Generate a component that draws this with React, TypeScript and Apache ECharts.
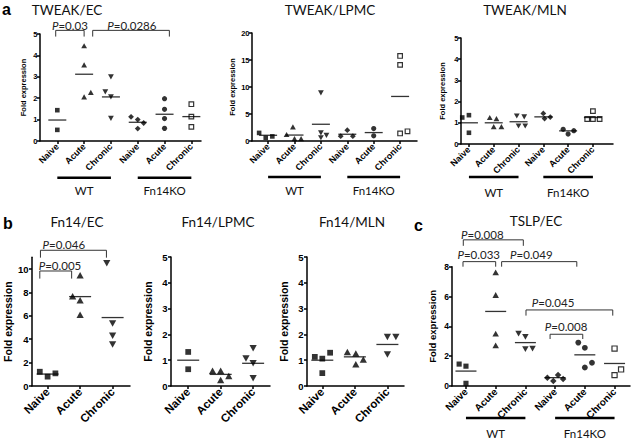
import React, { useEffect, useRef } from "react";
import * as echarts from "echarts";

// ---------- categories / labels ----------
const CATEGORIES_KO = ["Naive", "Acute", "Chronic", "Naive", "Acute", "Chronic"];
const CATEGORIES_WT = ["Naive", "Acute", "Chronic"];
const GROUP_LABELS = ["WT", "Fn14KO"];
const Y_LABEL = "Fold expression";

// ---------- tick values ----------
const yTicks5 = [0, 1, 2, 3, 4, 5];
const yTicks20 = [0, 5, 10, 15, 20];
const yTicks10 = [0, 2, 4, 6, 8, 10];
const yTicks8 = [0, 2, 4, 6, 8];

// ---------- TWEAK/EC ----------
const tweakEcValues = [[1.44, 0.52], [4.45, 3.56, 2.06, 2.27], [3.0, 2.3, 2.06, 1.06], [1.13, 1.0, 0.84, 0.58], [1.98, 1.48, 1.05, 0.59], [1.72, 1.14, 0.66]];
const tweakEcJitter = [[0, 0], [0, 0, 0, 0.25], [0, -0.21, 0, 0], [-0.25, 0, 0.22, 0], [0, 0, 0, 0], [0, 0, 0]];
const tweakEcMeans = [0.98, 3.12, 2.06, 0.875, 1.25, 1.14];
const tweakEcBrackets = [
  { p: "0.03", x1: -0.06, x2: 1.0, top: 5.17, foot: 4.88, tx: 0.47, ty: 5.42 },
  { p: "0.0286", x1: 1.32, x2: 4.18, top: 5.17, foot: 4.88, tx: 2.78, ty: 5.42 },
];

// ---------- TWEAK/LPMC ----------
const tweakLpmcValues = [[1.5, 0.6, 0.85], [2.6, 1.2, 0.45, 0.45], [8.9, 1.5, 0.6, 1.06], [2.0, 0.9, 0.9], [2.3, 0.95], [15.75, 14.1, 1.4, 1.8]];
const tweakLpmcJitter = [[-0.34, -0.09, 0.16], [-0.06, -0.3, 0, 0.25], [0, 0, 0, 0.21], [0, -0.25, 0.21], [0, 0], [0, 0, 0, 0.28]];
const tweakLpmcMeans = [1.06, 1.1, 3.1, 1.25, 1.56, 8.25];

// ---------- TWEAK/MLN ----------
const tweakMlnValues = [[1.25, 1.36, 0.53], [1.25, 1.2, 0.82, 0.82], [1.32, 1.28, 0.85, 0.85], [1.44, 1.2, 1.27], [0.69, 0.47, 0.63], [1.55, 1.18, 1.18, 1.18]];
const tweakMlnJitter = [[-0.27, 0, 0], [-0.16, 0.11, 0, 0.31], [-0.07, 0.23, 0, 0.27], [0, 0.05, 0.28], [-0.2, 0, 0.23], [0, -0.23, 0, 0.27]];
const tweakMlnMeans = [1.0, 1.0, 1.05, 1.28, 0.62, 1.25];

// ---------- Fn14/EC ----------
const fn14EcValues = [[1.22, 0.8, 1.08], [9.46, 7.67, 7.33, 6.1], [10.5, 5.34, 4.29, 3.55]];
const fn14EcJitter = [[-0.24, 0, 0.24], [0, -0.23, 0, 0], [-0.18, 0, 0, 0]];
const fn14EcMeans = [1.02, 7.64, 5.85];
const fn14EcBrackets = [
  { p: "0.046", x1: -0.22, x2: 1.81, top: 11.6, foot: 10.97, tx: 0.5, ty: 12.1 },
  { p: "0.005", x1: -0.24, x2: 0.74, top: 9.83, foot: 9.18, tx: 0.38, ty: 10.3 },
];

// ---------- Fn14/LPMC ----------
const fn14LpmcValues = [[1.32, 0.65], [0.59, 0.59, 0.23, 0.39], [1.46, 1.07, 0.88, 0.3]];
const fn14LpmcJitter = [[0, 0], [-0.25, 0, 0, 0.25], [0, -0.22, 0, 0]];
const fn14LpmcMeans = [1.0, 0.45, 0.88];

// ---------- Fn14/MLN ----------
const fn14MlnValues = [[1.13, 1.06, 1.29, 0.5], [1.32, 1.26, 0.84, 1.03], [1.9, 1.9, 1.22]];
const fn14MlnJitter = [[-0.23, 0, 0.24, 0], [-0.23, 0.03, 0.03, 0.26], [0, 0.26, 0]];
const fn14MlnMeans = [1.0, 1.13, 1.61];

// ---------- TSLP/EC ----------
const tslpEcValues = [[1.47, 1.33, 0.18], [7.62, 6.1, 3.51, 2.73], [3.51, 3.29, 2.47, 2.51], [0.56, 0.33, 0.73, 0.47], [2.91, 2.56, 1.24, 1.56], [2.51, 0.73, 1.11]];
const tslpEcJitter = [[-0.23, 0, 0], [0, 0, 0, 0], [-0.23, 0, 0, 0.24], [-0.26, -0.06, 0.1, 0.27], [-0.22, 0, 0, 0.24], [0, 0, 0.22]];
const tslpEcMeans = [1.0, 5.0, 2.91, 0.56, 2.09, 1.51];
const tslpEcBrackets = [
  { p: "0.008", x1: -0.09, x2: 1.93, top: 9.8, foot: 9.4, tx: 0.55, ty: 10.15 },
  { p: "0.033", x1: -0.1, x2: 1.0, top: 8.34, foot: 8.0, tx: 0.43, ty: 8.8 },
  { p: "0.049", x1: 1.2, x2: 3.73, top: 8.34, foot: 8.0, tx: 2.2, ty: 8.8 },
  { p: "0.045", x1: 2.02, x2: 4.94, top: 5.1, foot: 4.72, tx: 2.93, ty: 5.57 },
  { p: "0.008", x1: 2.83, x2: 3.93, top: 3.47, foot: 3.15, tx: 3.37, ty: 3.98 },
];

const SHAPES = ["square", "triangle", "triangleDown", "diamond", "circle", "openSquare"];

const TITLE_FONT = "Lato";
const AXIS_FONT = "Liberation Sans";

const PANELS = [
  { title: "TWEAK/EC", tx: 67, ty: 10, grid: { left: 40, top: 34, width: 161, height: 107 }, xMin: -0.646, xMax: 5.36, yMax: 5, yTicks: yTicks5, cats: CATEGORIES_KO, values: tweakEcValues, jitter: tweakEcJitter, means: tweakEcMeans, brackets: tweakEcBrackets, scale: 1, meanW: 18, tickFont: 7.5, catFont: 9, nameFont: 7.5, nameGap: 12.5, labelMargin: 2.5, bar: { off: 36.7, text: 49 } },
  { title: "TWEAK/LPMC", tx: 330, ty: 10, grid: { left: 252, top: 33, width: 165, height: 108 }, xMin: -0.61, xMax: 5.64, yMax: 20, yTicks: yTicks20, cats: CATEGORIES_KO, values: tweakLpmcValues, jitter: tweakLpmcJitter, means: tweakLpmcMeans, brackets: [], scale: 1, meanW: 18, tickFont: 7.5, catFont: 9, nameFont: 7.5, nameGap: 16, labelMargin: 2.5, bar: { off: 36, text: 49 } },
  { title: "TWEAK/MLN", tx: 525, ty: 10, grid: { left: 461, top: 38, width: 152, height: 106 }, xMin: -0.32, xMax: 5.81, yMax: 5, yTicks: yTicks5, cats: CATEGORIES_KO, values: tweakMlnValues, jitter: tweakMlnJitter, means: tweakMlnMeans, brackets: [], scale: 1, meanW: 18, tickFont: 7.5, catFont: 9, nameFont: 7.5, nameGap: 15, labelMargin: 2.5, bar: { off: 33, text: 48 } },
  { title: "Fn14/EC", tx: 77, ty: 222, grid: { left: 32, top: 257.3, width: 98, height: 128.7 }, xMin: -0.48, xMax: 2.535, yMax: 11, yTicks: yTicks10, cats: CATEGORIES_WT, values: fn14EcValues, jitter: fn14EcJitter, means: fn14EcMeans, brackets: fn14EcBrackets, scale: 1.25, meanW: 22, tickFont: 9.5, catFont: 11.5, nameFont: 10.5, nameGap: 19, labelMargin: 3.5, bar: null },
  { title: "Fn14/LPMC", tx: 218, ty: 222, grid: { left: 171, top: 257, width: 99, height: 129 }, xMin: -0.53, xMax: 2.52, yMax: 5, yTicks: yTicks5, cats: CATEGORIES_WT, values: fn14LpmcValues, jitter: fn14LpmcJitter, means: fn14LpmcMeans, brackets: [], scale: 1.25, meanW: 22, tickFont: 9.5, catFont: 11.5, nameFont: 10.5, nameGap: 17.5, labelMargin: 3.5, bar: null },
  { title: "Fn14/MLN", tx: 352, ty: 222, grid: { left: 307, top: 257, width: 97, height: 129 }, xMin: -0.47, xMax: 2.51, yMax: 5, yTicks: yTicks5, cats: CATEGORIES_WT, values: fn14MlnValues, jitter: fn14MlnJitter, means: fn14MlnMeans, brackets: [], scale: 1.25, meanW: 22, tickFont: 9.5, catFont: 11.5, nameFont: 10.5, nameGap: 17.5, labelMargin: 3.5, bar: null },
  { title: "TSLP/EC", tx: 536, ty: 221, grid: { left: 452, top: 266.7, width: 178, height: 119.3 }, xMin: -0.47, xMax: 5.52, yMax: 8, yTicks: yTicks8, cats: CATEGORIES_KO, values: tslpEcValues, jitter: tslpEcJitter, means: tslpEcMeans, brackets: tslpEcBrackets, scale: 1.12, meanW: 21, tickFont: 8.5, catFont: 10, nameFont: 9.5, nameGap: 15, labelMargin: 3, bar: { off: 32, text: 47 } },
];

function symbolFor(shape: string, s: number) {
  const black = { color: "#000" };
  switch (shape) {
    case "square":
      return { symbol: "rect", size: 4.6 * s, rotate: 0, itemStyle: black };
    case "triangle":
      return { symbol: "triangle", size: [5.8 * s, 5.2 * s], rotate: 0, itemStyle: black };
    case "triangleDown":
      return { symbol: "triangle", size: [5.8 * s, 5.2 * s], rotate: 180, itemStyle: black };
    case "diamond":
      return { symbol: "diamond", size: [5.8 * s, 5.8 * s], rotate: 0, itemStyle: black };
    case "circle":
      return { symbol: "circle", size: 5.2 * s, rotate: 0, itemStyle: black };
    default:
      return { symbol: "rect", size: 4.6 * s, rotate: 0, itemStyle: { color: "#fff", borderColor: "#000", borderWidth: 1.2 } };
  }
}

function buildOption() {
  const grid: any[] = [];
  const xAxis: any[] = [];
  const yAxis: any[] = [];
  const series: any[] = [];
  const axisLineStyle = { color: "#000", width: 1.5 };

  PANELS.forEach((p, i) => {
    grid.push({ ...p.grid, containLabel: false });
    const catIdx = p.cats.map((_, k) => k);
    xAxis.push({
      gridIndex: i,
      type: "value",
      min: p.xMin,
      max: p.xMax,
      axisLine: { show: true, onZero: false, lineStyle: axisLineStyle },
      axisTick: { show: true, customValues: catIdx, length: 3, lineStyle: axisLineStyle },
      axisLabel: {
        customValues: catIdx,
        formatter: (v: number) => p.cats[Math.round(v)] ?? "",
        rotate: 45,
        margin: 4,
        fontSize: p.catFont,
        fontWeight: "bold",
        fontFamily: AXIS_FONT,
        color: "#000",
      },
      splitLine: { show: false },
    });
    yAxis.push({
      gridIndex: i,
      type: "value",
      min: 0,
      max: p.yMax,
      axisLine: { show: true, onZero: false, lineStyle: axisLineStyle },
      axisTick: { show: true, customValues: p.yTicks, length: 3, lineStyle: axisLineStyle },
      axisLabel: {
        customValues: p.yTicks,
        margin: p.labelMargin,
        fontSize: p.tickFont,
        fontWeight: "bold",
        fontFamily: AXIS_FONT,
        color: "#000",
      },
      splitLine: { show: false },
      name: Y_LABEL,
      nameLocation: "middle",
      nameGap: p.nameGap,
      nameTextStyle: { fontSize: p.nameFont, fontWeight: "bold", fontFamily: AXIS_FONT, color: "#000" },
    });

    p.values.forEach((vals, g) => {
      const sh = symbolFor(SHAPES[g], p.scale);
      series.push({
        type: "scatter",
        xAxisIndex: i,
        yAxisIndex: i,
        data: vals.map((v, k) => [g + p.jitter[g][k], v]),
        symbol: sh.symbol,
        symbolSize: sh.size,
        symbolRotate: sh.rotate,
        itemStyle: sh.itemStyle,
        silent: true,
        z: 3,
      });
    });
    series.push({
      type: "scatter",
      xAxisIndex: i,
      yAxisIndex: i,
      data: p.means.map((m, g) => [g, m]),
      symbol: "rect",
      symbolSize: [p.meanW, 1.3],
      itemStyle: { color: "#000" },
      silent: true,
      z: 4,
    });
    p.brackets.forEach((b) => {
      series.push({
        type: "line",
        xAxisIndex: i,
        yAxisIndex: i,
        data: [[b.x1, b.foot], [b.x1, b.top], [b.x2, b.top], [b.x2, b.foot]],
        symbol: "none",
        showSymbol: false,
        lineStyle: { color: "#333", width: 1 },
        clip: false,
        silent: true,
        z: 2,
      });
    });
  });

  const letterStyle = { fontSize: 16, fontWeight: "bold", fontFamily: AXIS_FONT, fill: "#000", verticalAlign: "middle", textVerticalAlign: "middle" };
  const staticGraphics: any[] = [
    { type: "text", x: 2, y: 9, style: { ...letterStyle, text: "a" } },
    { type: "text", x: 3, y: 223, style: { ...letterStyle, text: "b" } },
    { type: "text", x: 414, y: 225, style: { ...letterStyle, text: "c" } },
  ];
  PANELS.forEach((p) => {
    staticGraphics.push({
      type: "text",
      x: p.tx,
      y: p.ty,
      style: { text: p.title, fontSize: 13.5, fontFamily: TITLE_FONT, fill: "#111", align: "center", textAlign: "center", verticalAlign: "middle", textVerticalAlign: "middle" },
    });
  });

  return {
    option: { animation: false, backgroundColor: "#fff", grid, xAxis, yAxis, series, graphic: staticGraphics },
    staticGraphics,
  };
}

export default function App() {
  const ref = useRef<HTMLDivElement>(null);
  useEffect(() => {
    if (!ref.current) return;
    const chart = echarts.init(ref.current, null, { renderer: "svg" });
    const { option, staticGraphics } = buildOption();
    chart.setOption(option as any);

    const graphics = [...staticGraphics];
    PANELS.forEach((p, i) => {
      p.brackets.forEach((b) => {
        const pt = chart.convertToPixel({ gridIndex: i } as any, [b.tx, b.ty]) as number[];
        graphics.push({
          type: "text",
          x: pt[0],
          y: pt[1],
          style: {
            text: "{i|P}=" + b.p,
            fontSize: 11.5,
            fontFamily: TITLE_FONT,
            fill: "#222",
            align: "center",
            textAlign: "center",
            verticalAlign: "middle",
            textVerticalAlign: "middle",
            rich: { i: { fontStyle: "italic", fontSize: 11.5, fontFamily: TITLE_FONT, fill: "#222", color: "#222" } },
          },
        });
      });
      if (p.bar) {
        const y0 = (chart.convertToPixel({ gridIndex: i } as any, [0, 0]) as number[])[1];
        GROUP_LABELS.forEach((label, k) => {
          const xa = (chart.convertToPixel({ gridIndex: i } as any, [k * 3, 0]) as number[])[0];
          const xb = (chart.convertToPixel({ gridIndex: i } as any, [k * 3 + 2, 0]) as number[])[0];
          graphics.push({
            type: "line",
            shape: { x1: xa, y1: y0 + p.bar!.off, x2: xb, y2: y0 + p.bar!.off },
            style: { stroke: "#000", lineWidth: 2.5 },
          });
          graphics.push({
            type: "text",
            x: (xa + xb) / 2,
            y: y0 + p.bar!.text,
            style: { text: label, fontSize: 11.5, fontFamily: TITLE_FONT, fill: "#111", align: "center", textAlign: "center", verticalAlign: "middle", textVerticalAlign: "middle" },
          });
        });
      }
    });
    chart.setOption({ graphic: graphics } as any);

    return () => chart.dispose();
  }, []);

  return <div ref={ref} style={{ position: "fixed", left: 0, top: 0, width: 634, height: 445, background: "#fff" }} />;
}
